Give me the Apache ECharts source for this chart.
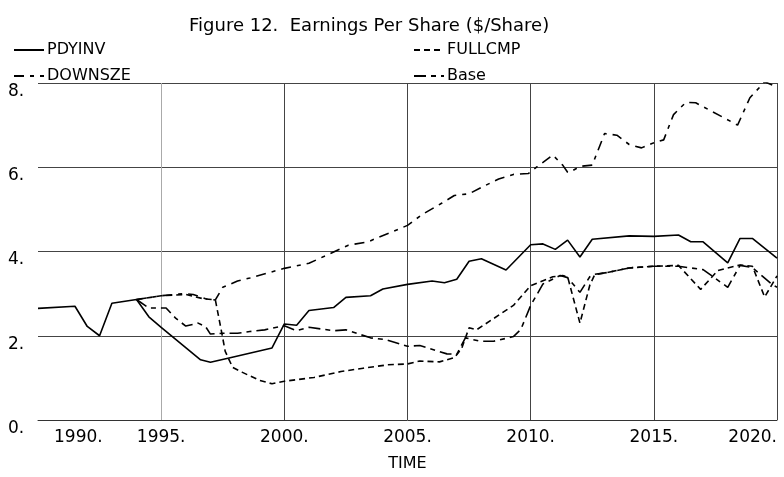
<!DOCTYPE html>
<html>
<head>
<meta charset="utf-8">
<script src="https://cdn.jsdelivr.net/npm/echarts@6/dist/echarts.min.js"></script>
<style>
  html, body { margin: 0; padding: 0; background: #fff; }
  #chart { width: 784px; height: 477px; }
</style>
</head>
<body>
<div id="chart"></div>
<script>
// years and values
const pdyinvYears = [1990, 1991.5, 1992, 1992.5, 1993, 1994, 1994.5, 1995, 1996.6, 1997, 1997.8, 1999.5, 2000, 2000.5, 2001, 2002, 2002.5, 2003.5, 2004, 2005, 2006, 2006.5, 2007, 2007.5, 2008, 2009, 2010, 2010.5, 2011, 2011.5, 2012, 2012.5, 2014, 2015, 2016, 2016.5, 2017, 2018, 2018.5, 2019, 2020]
const pdyinvEps = [2.65, 2.7, 2.22, 2.0, 2.77, 2.86, 2.45, 2.2, 1.43, 1.37, 1.48, 1.71, 2.28, 2.25, 2.6, 2.67, 2.91, 2.95, 3.11, 3.22, 3.3, 3.26, 3.34, 3.77, 3.83, 3.56, 4.16, 4.18, 4.05, 4.27, 3.87, 4.29, 4.37, 4.36, 4.39, 4.23, 4.23, 3.73, 4.31, 4.31, 3.84]

const fullcmpYears = [1994, 1995, 1996, 1996.7, 1997.2, 1997.45, 1997.6, 1997.9, 1998.3, 1999, 1999.5, 2000, 2001.2, 2002.3, 2003.2, 2004.2, 2005, 2005.5, 2006.3, 2006.9, 2007.2, 2007.5, 2007.8, 2008.5, 2009.3, 2010, 2010.3, 2010.9, 2011.3, 2011.5, 2012, 2012.4, 2012.6, 2013.1, 2014, 2015, 2016, 2016.9, 2017.6, 2018.5, 2019, 2019.5, 2020]
const fullcmpEps = [2.86, 2.95, 2.98, 2.88, 2.85, 2.1, 1.63, 1.25, 1.13, 0.94, 0.86, 0.92, 1.01, 1.15, 1.23, 1.31, 1.33, 1.4, 1.38, 1.48, 1.7, 2.19, 2.14, 2.41, 2.72, 3.19, 3.26, 3.4, 3.43, 3.4, 2.3, 3.2, 3.45, 3.5, 3.61, 3.65, 3.67, 3.1, 3.55, 3.68, 3.65, 2.92, 3.42]

const downszeYears = [1994, 1995, 1995.9, 1996.3, 1996.8, 1997.2, 1997.5, 1998.1, 1998.6, 2000, 2001, 2001.6, 2002.6, 2003.4, 2003.8, 2004.4, 2005, 2005.6, 2006.4, 2006.9, 2007.5, 2008.1, 2008.7, 2009.3, 2009.9, 2010.3, 2010.9, 2011.3, 2011.5, 2011.7, 2012, 2012.5, 2013, 2013.5, 2014, 2014.5, 2014.9, 2015.4, 2015.8, 2016.3, 2016.7, 2017.7, 2018.4, 2018.9, 2019.5, 2020]
const downszeEps = [2.86, 2.95, 3.0, 2.98, 2.88, 2.85, 3.15, 3.3, 3.37, 3.6, 3.72, 3.88, 4.15, 4.23, 4.33, 4.47, 4.62, 4.88, 5.15, 5.33, 5.37, 5.55, 5.72, 5.83, 5.85, 6.03, 6.29, 6.05, 5.88, 5.92, 6.02, 6.05, 6.8, 6.76, 6.54, 6.46, 6.56, 6.65, 7.25, 7.54, 7.53, 7.22, 7.0, 7.65, 8.03, 7.9]

const baseYears = [1994, 1994.5, 1995.2, 1995.6, 1996, 1996.5, 1996.8, 1997, 1997.5, 1998.1, 1998.6, 1999.2, 2000, 2000.5, 2001, 2002, 2002.5, 2003.5, 2004.1, 2005, 2005.5, 2006.6, 2007, 2007.35, 2007.95, 2008.5, 2009.3, 2009.6, 2010, 2010.5, 2011.2, 2011.5, 2012, 2012.4, 2012.6, 2013.1, 2014, 2015, 2016, 2017, 2018, 2018.5, 2019, 2019.8, 2020]
const baseEps = [2.86, 2.66, 2.66, 2.41, 2.23, 2.3, 2.22, 2.04, 2.06, 2.06, 2.1, 2.14, 2.24, 2.12, 2.2, 2.12, 2.14, 1.95, 1.91, 1.75, 1.77, 1.57, 1.56, 1.95, 1.87, 1.87, 1.98, 2.15, 2.72, 3.23, 3.43, 3.38, 3.03, 3.4, 3.46, 3.5, 3.61, 3.65, 3.65, 3.57, 3.15, 3.67, 3.62, 3.22, 3.15]

const FONT = 'DejaVu Sans'

const pairs = (xs, ys) => xs.map((x, i) => [x, ys[i]])

const lineSeries = (name, xs, ys, dash) => ({
  name,
  type: 'line',
  data: pairs(xs, ys),
  symbol: 'none',
  lineStyle: { color: '#000', width: 1.6, type: dash },
  itemStyle: { color: '#000' },
  z: 3
})

const legendBase = {
  orient: 'vertical',
  top: 37,
  itemGap: 10,
  itemWidth: 30,
  itemHeight: 14,
  itemStyle: { opacity: 0 },
  textStyle: { fontFamily: FONT, fontSize: 16, color: '#000', padding: [0, 0, 0, -2] }
}

const chart = echarts.init(document.getElementById('chart'), null, { renderer: 'canvas' })

const option = {
  animation: false,
  title: {
    text: 'Figure 12.  Earnings Per Share ($/Share)',
    left: 184,
    top: 12,
    textStyle: { fontFamily: FONT, fontSize: 18, fontWeight: 'normal', color: '#000' }
  },
  legend: [
    Object.assign({}, legendBase, { left: 8, data: ['PDYINV', 'DOWNSZE'] }),
    Object.assign({}, legendBase, { left: 408, data: ['FULLCMP', 'Base'] })
  ],
  grid: { left: 38, right: 7, top: 83, bottom: 50 },
  xAxis: {
    type: 'value',
    min: 1990,
    max: 2020,
    interval: 5,
    name: 'TIME',
    nameLocation: 'middle',
    nameGap: 36,
    nameTextStyle: { fontFamily: FONT, fontSize: 16, color: '#000' },
    axisLine: { show: true, lineStyle: { color: '#333', width: 1 } },
    axisTick: { show: false },
    axisLabel: {
      formatter: v => (v === 1990 ? '{p|1990.}' : v + '.'),
      margin: 9,
      fontFamily: FONT,
      fontSize: 17,
      color: '#000',
      alignMinLabel: 'left',
      alignMaxLabel: 'right',
      rich: {
        p: { padding: [0, 0, 0, 16], fontFamily: FONT, fontSize: 17, color: '#000' }
      }
    },
    // the 1995 line is only faintly printed in the scan
    splitLine: {
      show: true,
      showMinLine: false,
      lineStyle: { color: ['#aaa', '#444', '#444', '#444', '#444', '#444'], width: 1 }
    }
  },
  yAxis: {
    type: 'value',
    min: 0,
    max: 8,
    interval: 2,
    axisLine: { show: false },
    axisTick: { show: false },
    axisLabel: {
      formatter: v => v + '.',
      align: 'left',
      verticalAlign: 'top',
      margin: 30,
      fontFamily: FONT,
      fontSize: 17,
      color: '#000'
    },
    splitLine: { show: true, showMinLine: false, lineStyle: { color: '#444', width: 1 } }
  },
  series: [
    lineSeries('PDYINV', pdyinvYears, pdyinvEps, 'solid'),
    lineSeries('DOWNSZE', downszeYears, downszeEps, [10, 6, 4, 6]),
    lineSeries('FULLCMP', fullcmpYears, fullcmpEps, [6, 4]),
    lineSeries('Base', baseYears, baseEps, [12, 5, 5, 5])
  ]
}

chart.setOption(option)
</script>
</body>
</html>
